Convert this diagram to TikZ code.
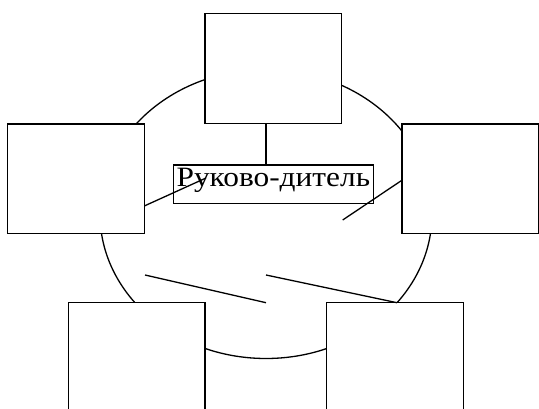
\documentclass[tikz,border=0pt]{standalone}
\usepackage{fontspec}
\usepackage{graphicx}
\setmainfont{Liberation Serif}
\usetikzlibrary{shapes.geometric}
\begin{document}
\begin{tikzpicture}[x=1pt,y=-1pt,line width=1.3pt,
  box/.style={draw,fill=white,inner sep=0pt,minimum width=136.7pt},
  lbl/.style={draw,fill=white,inner sep=0pt,minimum width=200pt,minimum height=38.3pt,font=\fontsize{28}{30}\selectfont}]
\useasboundingbox (0,0) rectangle (539,409);
\clip (0,0) rectangle (539,409);
\node[ellipse,draw,inner sep=0pt,minimum width=332pt,minimum height=289pt] (ring) at (266,214) {};
\node[box,minimum height=110pt] (top) at (273.3,68.3) {};
\node[box,minimum height=109.3pt] (left) at (75.8,178.7) {};
\node[box,minimum height=109.3pt] (right) at (470.4,178.7) {};
\node[box,minimum height=110pt] (bl) at (136.7,357.7) {};
\node[box,minimum height=110pt] (br) at (395,357.7) {};
\node[lbl] (boss) at (273.3,184.2) {\raisebox{-2.5pt}[0pt][0pt]{\scalebox{1.12}[1]{Руково-дитель}}};
\coordinate (vx) at (266,0);
\draw (top.south -| vx) -- (boss.north -| vx);
\coordinate (a1) at (144.3,206);
\coordinate (a2) at (206,178);
\draw (a1) -- (a2);
\coordinate (b1) at (402.3,180);
\coordinate (b2) at (342.7,220);
\draw (b1) -- (b2);
\coordinate (c1) at (145,275);
\coordinate (c2) at (266,302.7);
\draw (c1) -- (c2);
\coordinate (d1) at (266,275);
\coordinate (d2) at (397,302.7);
\draw (d1) -- (d2);
\end{tikzpicture}
\end{document}
